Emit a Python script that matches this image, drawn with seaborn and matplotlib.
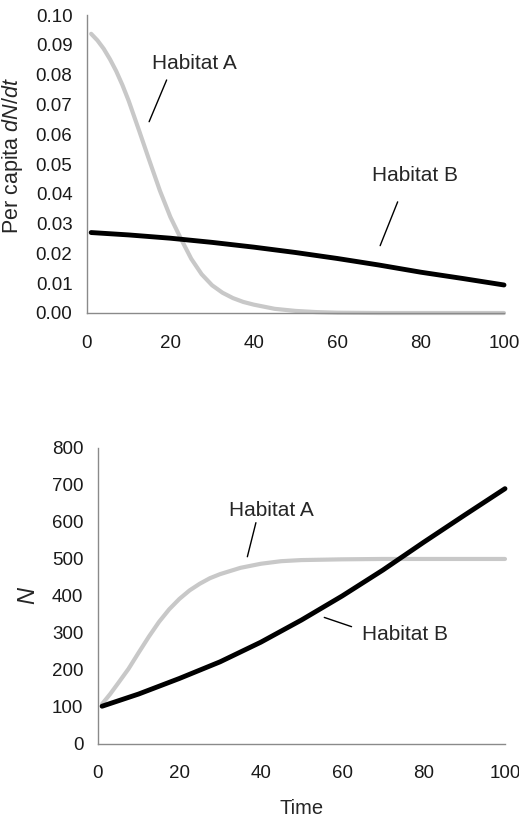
import matplotlib
matplotlib.use("Agg")
import pandas as pd
import seaborn as sns
import matplotlib.pyplot as plt

# ---- data ----
# top panel: per capita dN/dt
time_rate_a = [1, 2.5, 4, 5.5, 7, 8.5, 10, 12.5, 15, 17.5, 20, 22.5, 25, 27.5, 30, 32.5, 35, 37.5, 40, 45,
               50, 55, 60, 70, 80, 90, 100]
rate_a = [0.0937, 0.0915, 0.0887, 0.0852, 0.0812, 0.0765, 0.0712, 0.0612, 0.0510, 0.0410, 0.0322, 0.0250,
          0.0182, 0.0130, 0.0093, 0.0068, 0.0050, 0.0037, 0.0028, 0.0014, 0.0007, 0.0003, 0.0001, 0.0, 0.0,
          0.0, 0.0]
time_rate_b = [1, 10, 20, 30, 40, 50, 60, 70, 80, 90, 100]
rate_b = [0.0270, 0.0262, 0.0251, 0.0237, 0.0221, 0.0203, 0.0183, 0.0161, 0.0137, 0.0116, 0.0094]

# bottom panel: N
time_n_a = [1, 3, 5, 7.5, 10, 12.5, 15, 17.5, 20, 22.5, 25, 27.5, 30, 35, 40, 45, 50, 60, 70, 80, 90, 100]
n_a = [108, 135, 165, 203, 247, 290, 330, 364, 392, 415, 433, 448, 459, 476, 487, 494, 497, 499, 500, 500,
       500, 500]
time_n_b = [1, 10, 20, 30, 40, 50, 60, 70, 80, 90, 100]
n_b = [102, 135, 177, 222, 275, 335, 400, 470, 545, 618, 690]

time_ticks = [0, 20, 40, 60, 80, 100]
rate_ticks = [0.00, 0.01, 0.02, 0.03, 0.04, 0.05, 0.06, 0.07, 0.08, 0.09, 0.10]
n_ticks = [0, 100, 200, 300, 400, 500, 600, 700, 800]

GREY = "#c8c8c8"
AXC = "#8a8a8a"
LEADER = dict(arrowstyle="-", lw=1, color="black", shrinkA=0, shrinkB=0)

sns.set_style("white")
plt.rcParams["font.family"] = ["Liberation Sans", "DejaVu Sans"]
plt.rcParams["mathtext.fontset"] = "custom"
plt.rcParams["mathtext.rm"] = "Liberation Sans"
plt.rcParams["mathtext.it"] = "Liberation Sans:italic"

fig = plt.figure(figsize=(5.19, 8.17), dpi=100)
ax1 = fig.add_axes([0.1676, 0.6169, 0.8035, 0.3647])
ax2 = fig.add_axes([0.1888, 0.0894, 0.7842, 0.3623])


def style(ax, xpad):
    sns.despine(ax=ax)
    for s in ("left", "bottom"):
        ax.spines[s].set_color(AXC)
        ax.spines[s].set_linewidth(1)
    ax.tick_params(axis="both", direction="out", length=3.5, width=1, color=AXC,
                   labelcolor="#1a1a1a", labelsize=13.5)
    ax.tick_params(axis="y", pad=7)
    ax.tick_params(axis="x", pad=xpad)
    ax.set_xlim(0, 100)
    ax.set_xticks(time_ticks)


# top panel
sns.lineplot(x=time_rate_a, y=rate_a, ax=ax1, color=GREY, lw=3, clip_on=False)
sns.lineplot(x=time_rate_b, y=rate_b, ax=ax1, color="black", lw=3.5, clip_on=False)
style(ax1, 12.5)
ax1.set_ylim(0, 0.10)
ax1.set_yticks(rate_ticks)
ax1.set_yticklabels([f"{v:.2f}" for v in rate_ticks])
ax1.set_ylabel("Per capita $dN/dt$", fontsize=15.5)
ax1.yaxis.set_label_coords(-0.149, 0.53)

ax1.text(25.7, 0.0836, "Habitat A", ha="center", va="center", fontsize=15)
ax1.annotate("", xy=(14.9, 0.0642), xytext=(19.1, 0.0782), arrowprops=LEADER)
ax1.text(78.7, 0.0461, "Habitat B", ha="center", va="center", fontsize=15)
ax1.annotate("", xy=(70.3, 0.0226), xytext=(74.5, 0.0373), arrowprops=LEADER)

# bottom panel
sns.lineplot(x=time_n_a, y=n_a, ax=ax2, color=GREY, lw=3, clip_on=False)
sns.lineplot(x=time_n_b, y=n_b, ax=ax2, color="black", lw=3.5, clip_on=False)
style(ax2, 11.5)
ax2.set_ylim(0, 800)
ax2.set_yticks(n_ticks)
ax2.set_ylabel("$N$", fontsize=17)
ax2.yaxis.set_label_coords(-0.1425, 0.5)
ax2.set_xlabel("Time", fontsize=14.5)
ax2.xaxis.set_label_coords(0.5, -0.186)

ax2.text(42.5, 631, "Habitat A", ha="center", va="center", fontsize=15)
ax2.annotate("", xy=(36.7, 506), xytext=(38.8, 598), arrowprops=LEADER)
ax2.text(75.4, 297, "Habitat B", ha="center", va="center", fontsize=15)
ax2.annotate("", xy=(55.6, 342), xytext=(62.3, 317), arrowprops=LEADER)

fig.savefig("out.png", dpi=100)
